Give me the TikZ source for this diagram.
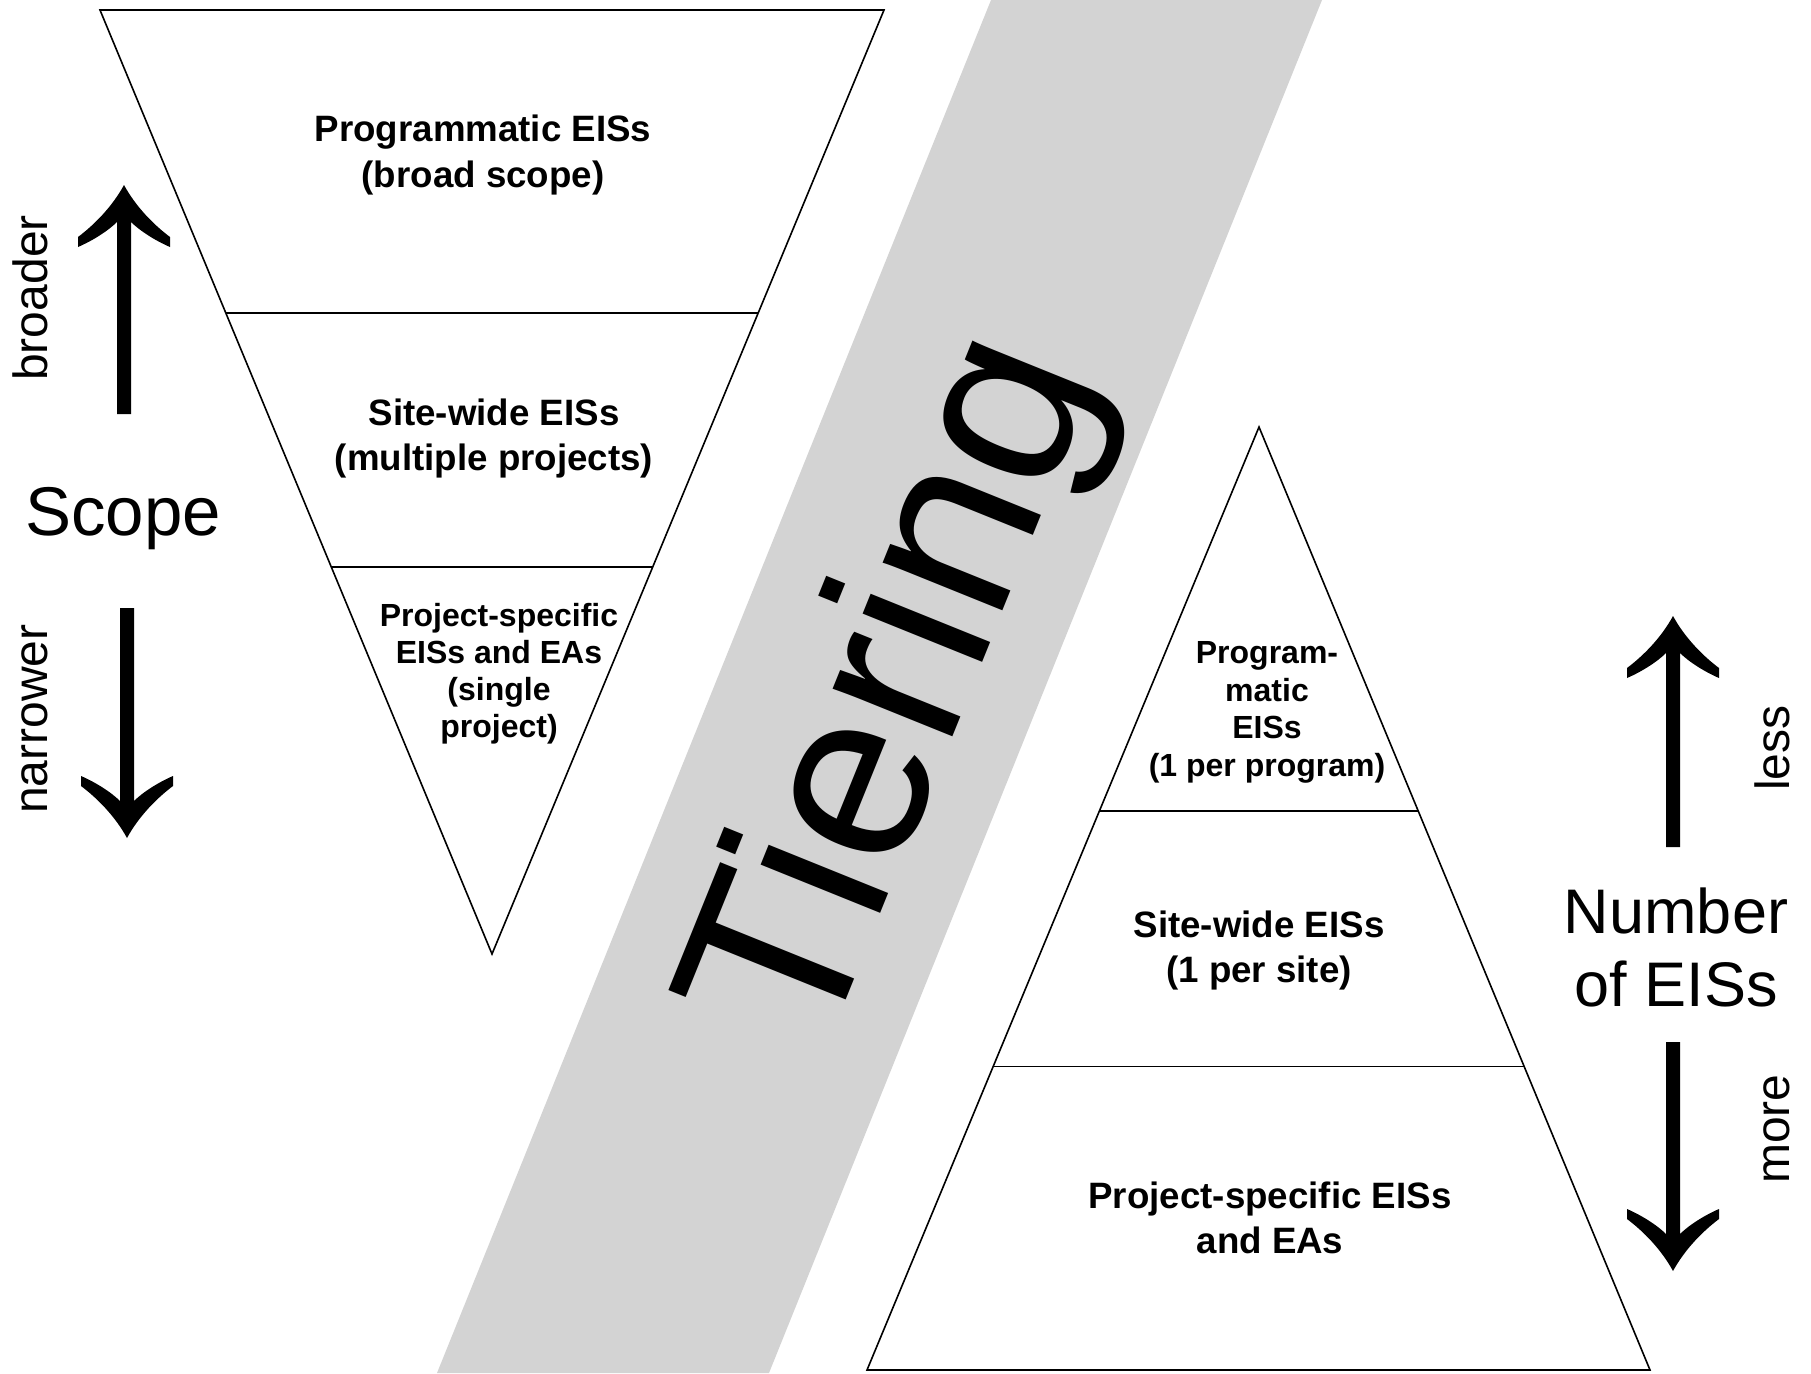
\documentclass[tikz,border=0pt]{standalone}
\usepackage{fontspec}
\setmainfont{Liberation Sans}
\usetikzlibrary{calc}
\definecolor{bandgray}{RGB}{211,211,211}

\tikzset{
  tier/.style={draw=black, line width=1.6pt, line join=miter},
  lbl/.style={font=\fontsize{36.7}{36.7}\selectfont\bfseries, anchor=base, inner sep=0pt},
  lblsmall/.style={font=\fontsize{32}{32}\selectfont\bfseries, anchor=base, inner sep=0pt},
  axisname/.style={anchor=base, inner sep=0pt},
  sidetag/.style={font=\fontsize{48}{48}\selectfont, anchor=base, rotate=90, inner sep=0pt},
  % thick arrow with curved barbs; tip at the pic origin, shaft of length #1
  barb/.pic={
    \fill (0,0) .. controls (-12,22) and (-30,40) .. (-46,52) -- (-46,62)
      .. controls (-32,56) and (-16,46) .. (-7,37) -- (-7,#1) -- (7,#1) -- (7,37)
      .. controls (16,46) and (32,56) .. (46,62) -- (46,52)
      .. controls (30,40) and (12,22) .. (0,0) -- cycle;
  }
}

\begin{document}
\begin{tikzpicture}[x=1pt,y=-1pt]
  \useasboundingbox (0,0) rectangle (1811,1373);

  % diagonal band behind the title
  \fill[bandgray] (991,0) -- (1322,0) -- (769,1373) -- (437,1373) -- cycle;
  \node[font=\fontsize{244}{244}\selectfont, rotate=68, inner sep=0pt] (tiering) at (902,693) {Tiering};

  % inverted triangle: scope
  \coordinate (vtl) at (100,10);
  \coordinate (vtr) at (884,10);
  \coordinate (vb)  at (492,954);
  \draw[tier] (vtl) -- (vtr) -- (vb) -- cycle;
  \draw[tier] ($(vtl)!0.321!(vb)$) -- ($(vtr)!0.321!(vb)$);
  \draw[tier] ($(vtl)!0.590!(vb)$) -- ($(vtr)!0.590!(vb)$);

  \node[lbl] (pg1) at (483,141) {Programmatic EISs};
  \node[lbl] (pg2) at (483,187) {(broad scope)};
  \node[lbl] (sw1) at (494,425) {Site-wide EISs};
  \node[lbl] (sw2) at (494,470) {(multiple projects)};
  \node[lblsmall] (ps1) at (499,626) {Project-specific};
  \node[lblsmall] (ps2) at (499,663) {EISs and EAs};
  \node[lblsmall] (ps3) at (499,700) {(single};
  \node[lblsmall] (ps4) at (499,737) {project)};

  % upright triangle: number of documents
  \coordinate (ut)  at (1259,427);
  \coordinate (ubl) at (867,1370);
  \coordinate (ubr) at (1650,1370);
  \draw[tier] (ut) -- (ubr) -- (ubl) -- cycle;
  \draw[tier] ($(ut)!0.407!(ubl)$) -- ($(ut)!0.407!(ubr)$);
  \draw[tier] ($(ut)!0.678!(ubl)$) -- ($(ut)!0.678!(ubr)$);

  \node[lblsmall] (rp1) at (1267,663) {Program-};
  \node[lblsmall] (rp2) at (1267,701) {matic};
  \node[lblsmall] (rp3) at (1267,738) {EISs};
  \node[lblsmall] (rp4) at (1267,776) {(1 per program)};
  \node[lbl] (rs1) at (1259,937) {Site-wide EISs};
  \node[lbl] (rs2) at (1259,982) {(1 per site)};
  \node[lbl] (rq1) at (1270,1208) {Project-specific EISs};
  \node[lbl] (rq2) at (1270,1253) {and EAs};

  % left axis: scope
  \node[axisname, font=\fontsize{69}{69}\selectfont] (scope) at (123,535) {Scope};
  \pic at (124,185) {barb=229};
  \pic[yscale=-1] at (127,838) {barb=230};
  \node[sidetag] (broader) at (47,298) {broader};
  \node[sidetag] (narrower) at (47,719) {narrower};

  % right axis: number of EISs
  \node[axisname, font=\fontsize{63}{63}\selectfont] (num1) at (1676,933) {Number};
  \node[axisname, font=\fontsize{63}{63}\selectfont] (num2) at (1676,1006) {of EISs};
  \pic at (1673,616) {barb=231};
  \pic[yscale=-1] at (1673,1271) {barb=229};
  \node[sidetag] (less) at (1789,748) {less};
  \node[sidetag] (more) at (1789,1129) {more};
\end{tikzpicture}
\end{document}
